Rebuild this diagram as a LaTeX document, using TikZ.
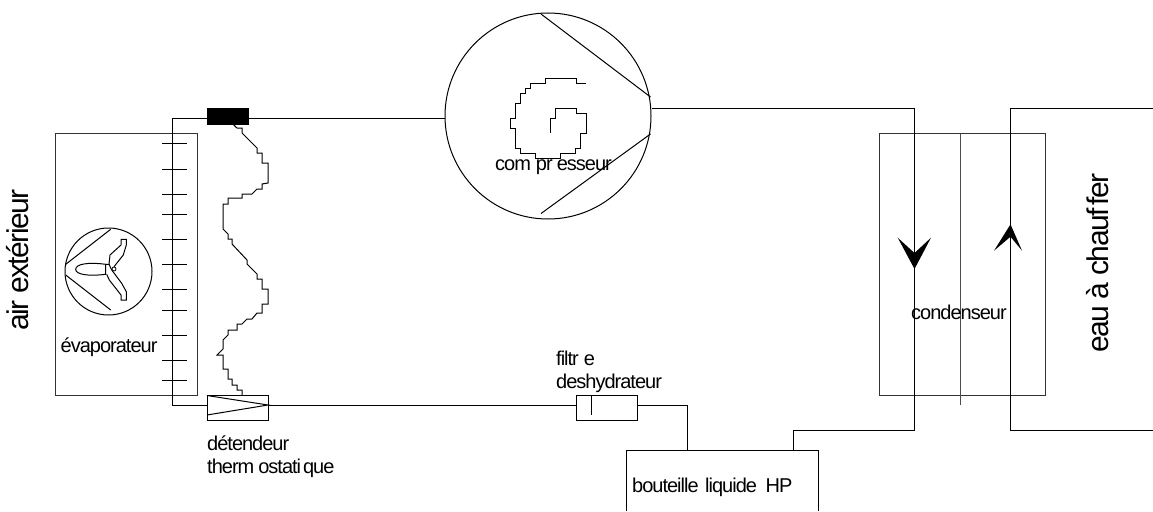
\documentclass[tikz,border=0pt]{standalone}
\usepackage{fontspec}
\setmainfont{Liberation Sans}[LetterSpace=-5]
\usetikzlibrary{calc}
\tikzset{
  trait/.style={line width=1pt},
  bloc/.style={draw,line width=1pt,inner sep=0pt,minimum width=#1},
  etiquette/.style={font=\fontsize{20}{23}\selectfont,inner sep=0pt,anchor=west},
  grand/.style={font=\fontsize{30}{34}\selectfont,inner sep=0pt,rotate=90},
}
\begin{document}
\begin{tikzpicture}[x=1pt,y=-1pt,line cap=butt,line join=miter]
    \useasboundingbox (0,0) rectangle (1153,511);
    % echangeurs
    \draw[trait,black!80] (55.5,133.5) rectangle (197,395);
    \draw[trait,black!80] (879,133.5) rectangle (1045.5,395);
    \draw[trait,black!70] (960,133.5) -- (960,405);
    % organes
    \node[bloc=41pt,fill=black,minimum height=16pt] (bulbe) at (227.5,116) {};
    \node[bloc=61pt,minimum height=25.5pt] (detendeur) at (237.5,408) {};
    \node[bloc=61pt,minimum height=25pt] (filtre) at (606.5,407.5) {};
    \node[draw,circle,line width=1pt,minimum size=206pt,inner sep=0pt] (compresseur) at (548,116) {};
    \node[draw,circle,line width=1pt,minimum size=87pt,inner sep=0pt] (ventilateur) at (108.5,271.5) {};
    \coordinate (evapHaut) at (172,118);
    \coordinate (evapBas) at (172,405);
    \coordinate (bouteilleE) at (687,450);
    \coordinate (bouteilleS) at (793,450);
    \coordinate (condE) at (914.5,108.5);
    \coordinate (condS) at (914.5,430.5);
    \coordinate (eauE) at (1153,430.5);
    \coordinate (eauS) at (1153,108.5);
    % bouteille
    \draw[trait] (626.5,511) |- (818,450) -- (818,511);
    % circuit
    \draw[trait] (bulbe.west |- evapHaut) -- (evapHaut) -- (evapBas) -- (detendeur.west |- evapBas);
    \draw[trait] (bulbe.east |- evapHaut) -- (compresseur.west |- evapHaut);
    \draw[trait] (detendeur.east |- evapBas) -- (filtre.west |- evapBas);
    \draw[trait] (filtre.east |- evapBas) -| (bouteilleE);
    \draw[trait] (bouteilleS) |- (condS) -- (condE) -- (compresseur.east |- condE);
    \draw[trait] (eauE) -| (1010.5,108.5) -- (eauS);
    % ailettes
    \foreach \y in {143.5,169,194,214,239,264,289,310,335,360,380}
      \draw[trait] (162,\y) -- (187,\y);
    % interieur des organes
    \draw[trait] (207,395.5) -- (268,405) -- (207,415);
    \draw[trait] (591,396) -- (591,415);
    \draw[trait] (650.5,97) -- (541,14);
    \draw[trait] (650.5,134) -- (541,213.5);
    \draw[trait] (110.7,229.3) -- (65.7,264.3) (65.7,275) -- (110.7,310);
    % bulbe
    \draw[trait] (232.7,124) -- (237,128) -- (242,128) -- (242,133) -- (257,148) -- (257,153)
      -- (262,153) -- (262,163) -- (268,163) -- (268,183) -- (262,184) -- (262,189) -- (257,189)
      -- (252,194) -- (242,194) -- (242,198) -- (228,198) -- (228,204) -- (223,204) -- (223,229)
      -- (228,234) -- (228,239) -- (232,239) -- (232,244) -- (247,260) -- (247,264) -- (257,274)
      -- (257,279) -- (262,279) -- (262,289) -- (268,289) -- (268,304) -- (262,304) -- (262,313)
      -- (257,313) -- (252,319) -- (247,319) -- (242,324) -- (237,324) -- (237,330) -- (228,330)
      -- (228,335) -- (223,340) -- (223,349) -- (217,355) -- (223,355) -- (223,369) -- (228,369)
      -- (228,379) -- (232,379) -- (232,385) -- (237,385) -- (237,390) -- (242,390) -- (242,395);
    % spirale
    \draw[trait] (586,83) -- (576,83) -- (576,78) -- (545.7,78) -- (545.7,83) -- (530.7,83)
      -- (530.7,88) -- (525.7,88) -- (525.7,93) -- (520.3,93) -- (520.3,103) -- (515.3,103)
      -- (515.3,118) -- (510,118) -- (510,128) -- (515.3,128) -- (515.3,148) -- (520.3,148)
      -- (520.3,153) -- (535.7,153) -- (535.7,158) -- (560.7,158) -- (560.7,153) -- (575.7,153)
      -- (575.7,148) -- (580.7,148) -- (580.7,133) -- (586,133) -- (586,113) -- (576,113)
      -- (576,108) -- (555.7,108) -- (555.7,118) -- (550.7,118) -- (550.7,133);
    % helice
    \draw[trait] (105.7,264.3) .. controls (88,262) and (75.7,264) .. (75.7,269.3)
      .. controls (75.7,274.5) and (88,276.5) .. (105.7,274.3) -- cycle;
    \draw[trait] (109,264.3) -- (110,255) -- (121,245) -- (121,239.3) -- (126.3,239.3) -- (126.3,245)
      -- (123.3,255) -- (114,266.7);
    \draw[trait] (106.7,274.3) -- (109.3,280) -- (121,295) -- (121,300) -- (126.3,300) -- (126.3,291.7)
      -- (121.7,283.3) -- (111.7,270);
    \draw[trait] (105.7,264.3) -- (109,264.3) -- (111.7,270);
    \draw[line width=.8pt] (114,269) circle (2pt);
    % fleches
    \fill (914.5,269) -- (897.7,237.7) -- (914.5,253) -- (931,237.7) -- cycle;
    \fill (1010.5,224.3) -- (994,250.7) -- (1010.5,236.7) -- (1022,250.7) -- cycle;
    % textes
    \node[grand] (air) at (18,260) {air extérieur};
    \node[grand] (eau) at (1098,263) {eau à chauf\kern3pt fer};
    \node[etiquette] (labelEvap) at (60.5,347) {évaporateur};
    \node[etiquette] (labelComp) at (495,167) {com\kern5pt pr\kern4pt esseur};
    \node[etiquette] (labelCond) at (911,312) {condenseur};
    \node[etiquette] (labelDet) at (207,443) {détendeur};
    \node[etiquette] (labelTherm) at (207,468) {therm\kern4pt ostati\kern2pt que};
    \node[etiquette] (labelFiltre) at (556,358) {filtr\kern5pt e};
    \node[etiquette] (labelDesh) at (556,383) {deshydrateur};
    \node[etiquette] (labelBout) at (632,487) {bouteille\kern2pt\ liquide\kern4pt\ HP};
\end{tikzpicture}
\end{document}
